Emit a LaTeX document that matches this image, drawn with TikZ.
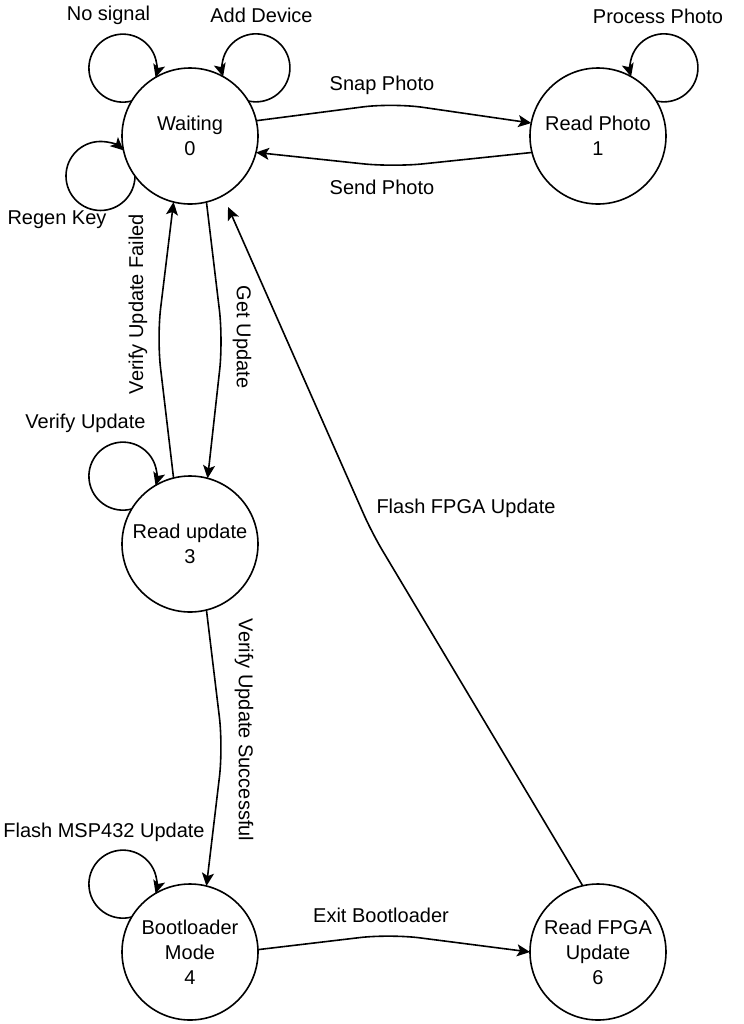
\documentclass[tikz,border=0pt]{standalone}
\usepackage{fontspec}
\setmainfont{Liberation Sans}
\usetikzlibrary{calc, positioning, arrows.meta}

\begin{document}
\begin{tikzpicture}[x=0.5pt,y=0.5pt,node distance=204pt,line width=0.8pt,
                    >={Stealth[length=6.5pt,width=6pt,inset=1.5pt]},
                    state node/.style={circle,draw,minimum size=68pt,inner sep=0pt,outer sep=0pt,align=center,font=\fontsize{10}{12.5}\selectfont},
                    edge label/.style={inner sep=0pt,font=\fontsize{10}{12}\selectfont}]

  \useasboundingbox (0,0) rectangle (744,-1024);

  \node[state node] (0) at (190,-136) {Waiting\\0};
  \node[state node] (1) [right of=0] {Read Photo\\1};
  \node[state node] (3) [below of=0] {Read update\\3};
  \node[state node] (4) [below of=3] {Bootloader\\Mode\\4};
  \node[state node] (6) [right of=4] {Read FPGA\\Update\\6};

  \coordinate (SnapK) at (393,-103);
  \coordinate (SendK) at (393,-167);
  \coordinate (GetK) at (223,-340);
  \coordinate (FailK) at (157,-338);
  \coordinate (OkK) at (223,-747);
  \coordinate (ExitK) at (390,-934);
  \coordinate (FpgaK) at (372,-533);

  \draw[->] (0.149) arc[start angle=-75, end angle=-376, radius=34];
  \draw[->] (0.31) arc[start angle=-103, end angle=195, radius=34];
  \draw[->] (0.216) arc[start angle=0, end angle=-312, radius=34.5];
  \draw[->] (1.31) arc[start angle=-103, end angle=195, radius=34];
  \draw[->] (3.149) arc[start angle=-75, end angle=-376, radius=34];
  \draw[->] (4.149) arc[start angle=-75, end angle=-376, radius=34];

  \draw[->,rounded corners=15pt] (0.13) -- (SnapK) -- (1.169);
  \draw[->,rounded corners=15pt] (1.194) -- (SendK) -- (0.-14);
  \draw[->,rounded corners=15pt] (0.-76) -- (GetK) -- (3.75);
  \draw[->,rounded corners=15pt] (3.104) -- (FailK) -- (0.-104);
  \draw[->,rounded corners=15pt] (3.-76) -- (OkK) -- (4.76);
  \draw[->,rounded corners=15pt] (4.2) -- (ExitK) -- (6.west);
  \draw[->,rounded corners=10pt,shorten >=6.3pt] (6.103) -- (FpgaK) -- (0.-61);

  \node[edge label] (NoSigL) at (108.5,-15) {No signal};
  \node[edge label] (AddL) at (261.5,-15) {Add Device};
  \node[edge label] (RegenL) at (57,-220) {Regen Key};
  \node[edge label] (ProcL) at (658,-16) {Process Photo};
  \node[edge label] (SnapL) at (382,-85) {Snap Photo};
  \node[edge label] (SendL) at (382,-187) {Send Photo};
  \node[edge label,rotate=90] (FailL) at (138,-304) {Verify Update Failed};
  \node[edge label,rotate=-90] (GetL) at (242,-337) {Get Update};
  \node[edge label] (VerL) at (85.5,-423) {Verify Update};
  \node[edge label] (FpgaL) at (466,-508) {Flash FPGA Update};
  \node[edge label,rotate=-90] (OkL) at (244,-730) {Verify Update Successful};
  \node[edge label] (MspL) at (104,-832) {Flash MSP432 Update};
  \node[edge label] (ExitL) at (381,-915) {Exit Bootloader};

\end{tikzpicture}
\end{document}
